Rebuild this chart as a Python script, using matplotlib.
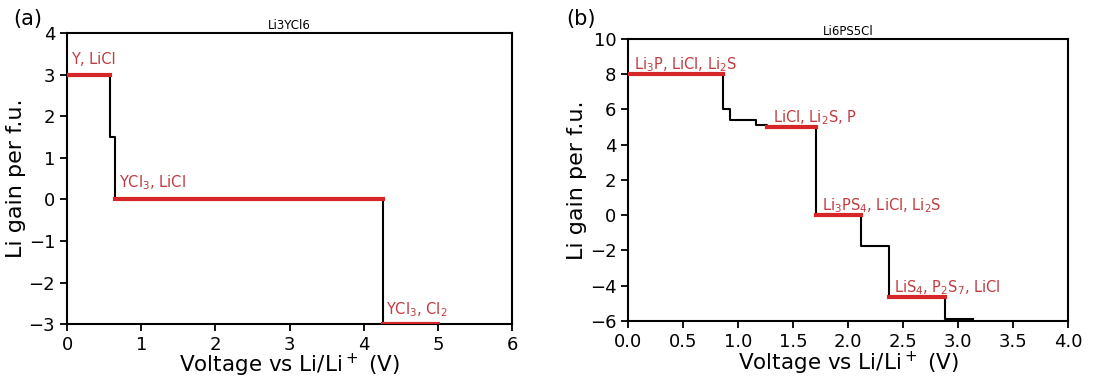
import matplotlib
matplotlib.use("Agg")
import matplotlib.pyplot as plt
import numpy as np

# panel (a) Li3YCl6
volt_a=[0,0.58,0.65,4.26,5.0]
gain_a=[3,1.5,0,-3,-3]
red_a=[0,2,3]  # plateau indices drawn in red
lab_a=["Y, LiCl","YCl$_3$, LiCl","YCl$_3$, Cl$_2$"]
labpos_a=[(0.05,3.25),(0.70,0.28),(4.30,-2.75)]

# panel (b) Li6PS5Cl
volt_b=[0,0.864,0.93,1.16,1.26,1.706,2.12,2.37,2.885,3.14]
gain_b=[8,6,5.4,5.1,5.0,0,-1.75,-4.65,-5.9,-5.9]
red_b=[0,4,5,7]
lab_b=["Li$_3$P, LiCl, Li$_2$S","LiCl, Li$_2$S, P","Li$_3$PS$_4$, LiCl, Li$_2$S","LiS$_4$, P$_2$S$_7$, LiCl"]
labpos_b=[(0.05,8.25),(1.32,5.25),(1.76,0.3),(2.42,-4.4)]

red="#d62728"
tred="#c03a3f"

def plot_panel(ax,volt,gain,reds,labs,labpos,title,xlim,ylim,xticks,yticks,xpad):
    ax.step(volt,gain,where="post",color="black",lw=1.5,zorder=2)
    for i in reds:
        ax.plot([volt[i],volt[i+1]],[gain[i],gain[i]],color=red,lw=3,zorder=3)
    for t,(x,y) in zip(labs,labpos):
        ax.text(x,y,t,color=tred,fontsize=10.5)
    ax.set_title(title,fontsize=8.5,pad=3)
    ax.set_xlim(*xlim)
    ax.set_ylim(*ylim)
    ax.set_xticks(xticks)
    ax.set_yticks(yticks)
    ax.tick_params(labelsize=13,width=1.3,length=5)
    for s in ax.spines.values():
        s.set_linewidth(1.5)
    ax.set_xlabel("Voltage vs Li/Li$^+$ (V)",fontsize=15.5,labelpad=xpad)
    ax.set_ylabel("Li gain per f.u.",fontsize=16,labelpad=2)

fig=plt.figure(figsize=(11.06,3.78),dpi=100)
ax1=fig.add_axes([0.0606,0.142,0.4024,0.771])
ax2=fig.add_axes([0.568,0.151,0.3976,0.746])
plot_panel(ax1,volt_a,gain_a,red_a,lab_a,labpos_a,"Li3YCl6",(0,6),(-3,4),np.arange(0,7,1),np.arange(-3,5,1),-1.5)
plot_panel(ax2,volt_b,gain_b,red_b,lab_b,labpos_b,"Li6PS5Cl",(0,4),(-6,10),np.arange(0,4.5,0.5),np.arange(-6,11,2),-1)
fig.text(0.012,0.935,"(a)",fontsize=15)
fig.text(0.512,0.935,"(b)",fontsize=15)
fig.savefig("out.png",dpi=100)
